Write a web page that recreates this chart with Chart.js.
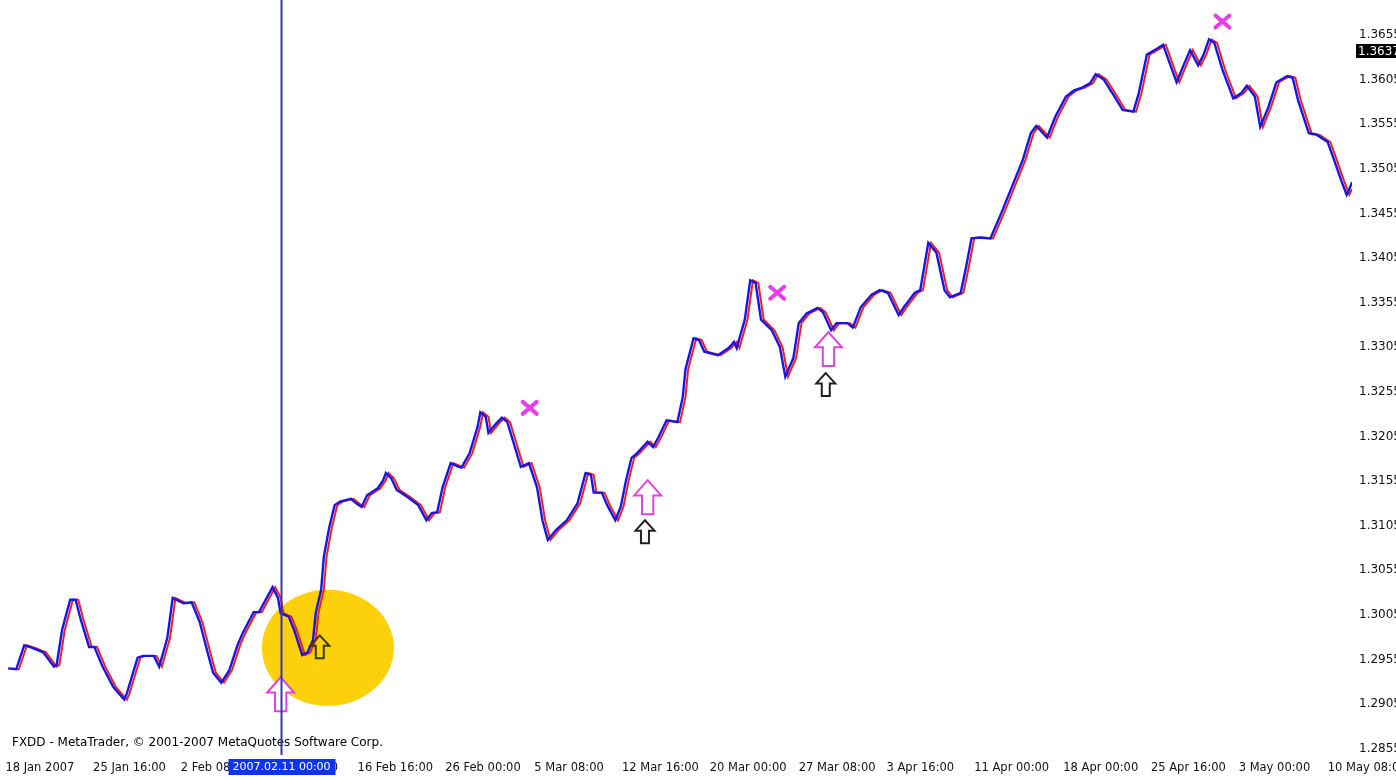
<!DOCTYPE html>
<html>
<head>
<meta charset="utf-8">
<script src="https://cdn.jsdelivr.net/npm/chart.js@4.4.1/dist/chart.umd.min.js"></script>
<style>
  html, body { margin: 0; padding: 0; background: #fff; }
  #wrap { width: 1396px; height: 780px; position: relative; }
</style>
</head>
<body>
<div id="wrap"><canvas id="fx"></canvas></div>
<script>
// ---------- Data (bar index / price) ----------
const blueBars = [3,6,9,12,16,20,21,23,26,28,30,33,35,38,42,46,47,51,53,57,59,62,64,68,71,74,77,79,82,85,
  88,90,94,96,99,101,103,104,107,109,112,114,116,117,119,120,122,124,126,130,132,134,136,140,142,143,145,147,151,155,
  158,160,162,164,167,170,171,174,177,178,180,181,184,186,188,190,193,196,199,201,203,206,210,214,217,219,220,223,225,228,
  230,232,234,236,240,242,244,247,251,253,254,257,259,261,266,270,272,273,276,278,280,282,286,289,291,294,296,299,303,305,
  308,310,314,316,319,323,326,329,333,335,339,341,344,347,350,352,356,358,360,363,367,371,375,379,382,384,388,391,395,398,
  401,404,406,409,413,416,420,422,425,429,431,433,436,439,441,444,446,448,450,453,457,460,462,465,467,470,473,477,479,481,
  485,488,492,494,497,499,500,501];

const bluePrices = [1.2945,1.2944,1.2971,1.2968,1.2963,1.2947,1.2949,1.2988,1.3022,1.3022,
  1.2999,1.2969,1.2969,1.2947,1.2924,1.2910,1.2917,1.2957,1.2959,1.2959,
  1.2947,1.2979,1.3024,1.3018,1.3019,1.2997,1.2962,1.2940,1.2929,1.2943,
  1.2971,1.2985,1.3008,1.3008,1.3025,1.3036,1.3024,1.3007,1.3003,1.2988,
  1.2960,1.2963,1.2977,1.3007,1.3033,1.3070,1.3103,1.3128,1.3132,1.3135,
  1.3130,1.3126,1.3139,1.3147,1.3156,1.3164,1.3158,1.3145,1.3137,1.3128,
  1.3111,1.3119,1.3120,1.3148,1.3175,1.3171,1.3170,1.3186,1.3216,1.3232,
  1.3227,1.3209,1.3220,1.3226,1.3221,1.3201,1.3171,1.3175,1.3148,1.3111,
  1.3089,1.3100,1.3111,1.3130,1.3164,1.3162,1.3142,1.3142,1.3128,1.3111,
  1.3126,1.3156,1.3181,1.3186,1.3199,1.3193,1.3204,1.3223,1.3221,1.3249,
  1.3280,1.3315,1.3313,1.3300,1.3296,1.3304,1.3311,1.3304,1.3336,1.3380,
  1.3377,1.3336,1.3324,1.3305,1.3272,1.3293,1.3332,1.3343,1.3349,1.3344,
  1.3324,1.3332,1.3332,1.3327,1.3350,1.3364,1.3369,1.3366,1.3341,1.3350,
  1.3366,1.3369,1.3422,1.3411,1.3369,1.3361,1.3366,1.3395,1.3427,1.3428,
  1.3427,1.3455,1.3485,1.3515,1.3545,1.3553,1.3540,1.3563,1.3586,1.3593,
  1.3596,1.3601,1.3611,1.3605,1.3586,1.3571,1.3569,1.3590,1.3633,1.3640,
  1.3644,1.3627,1.3602,1.3624,1.3638,1.3621,1.3633,1.3650,1.3646,1.3616,
  1.3584,1.3590,1.3598,1.3586,1.3552,1.3574,1.3602,1.3609,1.3607,1.3582,
  1.3545,1.3543,1.3535,1.3518,1.3492,1.3476,1.3482,1.3490];

// red signal line runs one bar behind the blue one
const redBars = [4,7,10,13,17,21,22,24,27,29,31,34,36,39,43,47,48,52,54,58,60,63,65,69,72,75,78,80,83,86,
  89,91,95,97,100,102,104,105,108,110,113,115,117,118,120,121,123,125,127,131,133,135,137,141,143,144,146,148,152,156,
  159,161,163,165,168,171,172,175,178,179,181,182,185,187,189,191,194,197,200,202,204,207,211,215,218,220,221,224,226,229,
  231,233,235,237,241,243,245,248,252,254,255,258,260,262,267,271,273,274,277,279,281,283,287,290,292,295,297,300,304,306,
  309,311,315,317,320,324,327,330,334,336,340,342,345,348,351,353,357,359,361,364,368,372,376,380,383,385,389,392,396,399,
  402,405,407,410,414,417,421,423,426,430,432,434,437,440,442,445,447,449,451,454,458,461,463,466,468,471,474,478,480,482,
  486,489,493,495,498,500,501,502];
const redPrices = bluePrices;

const tickBars = [2, 34.5, 67, 100, 132.5, 165, 198, 230.5, 263, 296, 328.5, 361, 394, 426.5, 459, 492];
const tickLabels = ["18 Jan 2007", "25 Jan 16:00", "2 Feb 08:00", "9 Feb 00:00", "16 Feb 16:00", "26 Feb 00:00",
  "5 Mar 08:00", "12 Mar 16:00", "20 Mar 00:00", "27 Mar 08:00", "3 Apr 16:00", "11 Apr 00:00",
  "18 Apr 00:00", "25 Apr 16:00", "3 May 00:00", "10 May 08:00"];
const priceTicks = [1.2855, 1.2905, 1.2955, 1.3005, 1.3055, 1.3105, 1.3155, 1.3205, 1.3255,
  1.3305, 1.3355, 1.3405, 1.3455, 1.3505, 1.3555, 1.3605, 1.3655];

// markers
const buyArrowBars = [104, 240, 307];          // magenta hollow arrows (tip)
const buyArrowPrices = [1.2935, 1.3156, 1.3322];
const confirmArrowBars = [118.5, 239, 306];    // dark hollow arrows (tip)
const confirmArrowPrices = [1.2982, 1.3111, 1.3276];
const crossBars = [196.3, 288, 453];
const crossPrices = [1.3237, 1.3366, 1.3670];
const cursorBar = 104;
const cursorLabel = "2007.02.11 00:00";
const circleBar = 121.5, circlePrice = 1.2968;
const lastPrice = 1.3637;
const copyright = "FXDD - MetaTrader, \u00a9 2001-2007 MetaQuotes Software Corp.";

const FAMILY = "'DejaVu Sans', sans-serif";

function upArrow(ctx, x, y, w, h, stroke, fill) {
  const hh = h * 0.45, sw = w * 0.42;
  ctx.beginPath();
  ctx.moveTo(x, y);
  ctx.lineTo(x + w / 2, y + hh);
  ctx.lineTo(x + sw / 2, y + hh);
  ctx.lineTo(x + sw / 2, y + h);
  ctx.lineTo(x - sw / 2, y + h);
  ctx.lineTo(x - sw / 2, y + hh);
  ctx.lineTo(x - w / 2, y + hh);
  ctx.closePath();
  if (fill) { ctx.fillStyle = fill; ctx.fill(); }
  ctx.strokeStyle = stroke;
  ctx.lineWidth = 2;
  ctx.stroke();
}

// ---------- Overlay plugin ----------
const overlay = {
  id: "overlay",
  beforeDatasetsDraw(chart) {
    const { ctx, scales: { x, y } } = chart;
    ctx.save();
    ctx.fillStyle = "#fcd10c";
    ctx.beginPath();
    ctx.ellipse(x.getPixelForValue(circleBar), y.getPixelForValue(circlePrice), 66, 58, 0, 0, Math.PI * 2);
    ctx.fill();
    ctx.restore();
  },
  afterDatasetsDraw(chart) {
    const { ctx, chartArea, scales: { x, y } } = chart;
    ctx.save();

    // crosses
    ctx.strokeStyle = "#e83ee8";
    ctx.lineWidth = 4;
    ctx.lineCap = "round";
    crossBars.forEach((b, i) => {
      const px = x.getPixelForValue(b), py = y.getPixelForValue(crossPrices[i]);
      ctx.beginPath();
      ctx.moveTo(px - 7, py - 6); ctx.lineTo(px + 7, py + 6);
      ctx.moveTo(px + 7, py - 6); ctx.lineTo(px - 7, py + 6);
      ctx.stroke();
    });
    ctx.lineCap = "butt";

    buyArrowBars.forEach((b, i) => {
      upArrow(ctx, x.getPixelForValue(b), y.getPixelForValue(buyArrowPrices[i]), 27, 34, "#dd44dd", "#fff");
    });
    confirmArrowBars.forEach((b, i) => {
      upArrow(ctx, x.getPixelForValue(b), y.getPixelForValue(confirmArrowPrices[i]), 19, 23, i === 0 ? "#3a3a10" : "#222", null);
    });

    // copyright
    ctx.font = "12px " + FAMILY;
    ctx.fillStyle = "#000";
    ctx.textAlign = "left";
    ctx.textBaseline = "middle";
    ctx.fillText(copyright, 12, 743);

    // cursor line
    const cx = Math.round(x.getPixelForValue(cursorBar)) + 0.5;
    ctx.strokeStyle = "#3636b8";
    ctx.lineWidth = 2;
    ctx.beginPath();
    ctx.moveTo(cx, chartArea.top);
    ctx.lineTo(cx, chartArea.bottom);
    ctx.stroke();

    // cursor label on time axis
    ctx.font = "11px " + FAMILY;
    ctx.fillStyle = "#1034ee";
    ctx.fillRect(cx - 53, 759, 107, 16);
    ctx.fillStyle = "#fff";
    ctx.textAlign = "center";
    ctx.fillText(cursorLabel, cx, 767.5);

    // last price box
    const py = Math.round(y.getPixelForValue(lastPrice));
    ctx.font = "12px " + FAMILY;
    ctx.fillStyle = "#000";
    ctx.fillRect(chartArea.right + 4, py - 7, 44, 14);
    ctx.fillStyle = "#fff";
    ctx.textAlign = "left";
    ctx.fillText(lastPrice.toFixed(4), chartArea.right + 6, py + 0.5);
    ctx.restore();
  }
};

// ---------- Chart ----------
new Chart(document.getElementById("fx"), {
  type: "line",
  data: {
    datasets: [
      {
        label: "Price",
        data: blueBars.map((b, i) => ({ x: b, y: bluePrices[i] })),
        borderColor: "#1616e6",
        borderWidth: 2.4,
        pointRadius: 0,
        tension: 0
      },
      {
        label: "Signal",
        data: redBars.map((b, i) => ({ x: b, y: redPrices[i] })),
        borderColor: "#f02020",
        borderWidth: 2,
        pointRadius: 0,
        tension: 0
      }
    ]
  },
  options: {
    responsive: true,
    maintainAspectRatio: false,
    animation: false,
    layout: { padding: 0 },
    plugins: { legend: { display: false }, tooltip: { enabled: false } },
    scales: {
      x: {
        type: "linear",
        min: 0,
        max: 501,
        grid: { display: false, drawTicks: false },
        border: { display: false },
        afterBuildTicks(scale) { scale.ticks = tickBars.map(v => ({ value: v })); },
        afterFit(scale) { scale.height = 25; scale.paddingLeft = 0; scale.paddingRight = 0; },
        ticks: {
          autoSkip: false,
          maxRotation: 0,
          align: "start",
          padding: 6,
          color: "#111",
          font: { family: FAMILY, size: 11.5 },
          callback: (v, i) => tickLabels[i]
        }
      },
      y: {
        position: "right",
        min: 1.28479,
        max: 1.36942,
        grid: { display: false, drawTicks: false },
        border: { display: false },
        afterBuildTicks(scale) { scale.ticks = priceTicks.map(v => ({ value: v })); },
        afterFit(scale) { scale.width = 44; scale.paddingTop = 0; scale.paddingBottom = 0; },
        ticks: {
          padding: 7,
          color: "#111",
          font: { family: FAMILY, size: 12 },
          callback: v => v.toFixed(4)
        }
      }
    }
  },
  plugins: [overlay]
});
</script>
</body>
</html>
